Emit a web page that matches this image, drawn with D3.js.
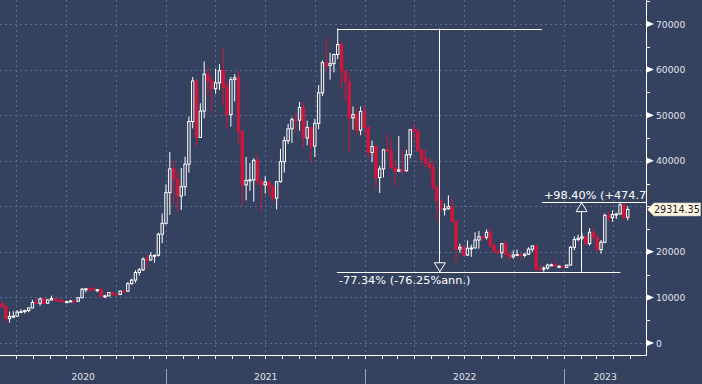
<!DOCTYPE html>
<html>
<head>
<meta charset="utf-8">
<script src="https://cdn.jsdelivr.net/npm/d3@7"></script>
<style>
  html, body { margin: 0; padding: 0; background: #34425f; }
  svg { display: block; }
  text { font-family: "DejaVu Sans", sans-serif; }
</style>
</head>
<body>
<div id="viz"></div>
<script>
/*##############################
#   Weekly OHLC, Mar 2020 on   #
###############################*/

var firstWeek = "2020-03-02";

var open = [
  8560, 8040, 5360, 5830, 5880, 6780, 6900, 7120, 7690, 8890, 8720, 9680, 8720, 9450, 9760, 9340, 9300, 9050, 9070, 9230,
  9160, 9930, 11800, 11900, 11850, 11680, 11700, 10280, 10330, 11080, 10770, 10660, 11380, 11370, 13030, 13800, 15480, 16060, 18400, 18190,
  19140, 19250, 23860, 26270, 33000, 38200, 36050, 32260, 34300, 39250, 48600, 57500, 45100, 50900, 59000, 57500, 55800, 57100, 59750, 56200,
  50100, 57800, 58200, 46400, 34700, 35700, 35800, 40100, 35500, 34700, 35300, 34240, 31800, 35400, 39800, 44400, 47000, 49000, 48900, 51700,
  45000, 47300, 43200, 48200, 54900, 61500, 60900, 61300, 63300, 65500, 59700, 57300, 49400, 50100, 46700, 50800, 47300, 41800, 43100, 36300,
  38200, 42400, 42200, 38400, 37700, 38000, 37800, 41300, 46800, 46400, 42200, 40400, 39500, 38500, 34300, 31300, 29400, 29450, 29900, 26700,
  20600, 21000, 19300, 20800, 20850, 22600, 23300, 23200, 24300, 21500, 20000, 19800, 21800, 19400, 18900, 19300, 19400, 19200, 19500, 20600,
  21300, 16300, 16250, 16450, 17100, 17150, 16800, 16850, 16600, 17100, 21000, 22700, 23000, 23300, 21800, 24300, 23200, 20500, 22100, 28000,
  27500, 28200, 28300, 30300, 27600
];
var high = [
  9180, 8180, 6900, 6950, 7200, 7460, 7290, 7770, 9460, 10000, 9940, 9900, 9600, 10400, 9990, 9600, 9760, 9300, 9470, 9340,
  10000, 12100, 12000, 12100, 12480, 11800, 12090, 10600, 11180, 11100, 10950, 11500, 11730, 13350, 14100, 15950, 16480, 18800, 19450, 19920,
  19400, 24200, 28400, 34800, 41950, 40100, 37850, 38400, 40900, 49700, 58350, 58000, 52600, 61800, 60600, 58400, 60200, 61200, 64900, 57200,
  58400, 59000, 59600, 46800, 40800, 39500, 40500, 41300, 35700, 36600, 35400, 34700, 35500, 42600, 45300, 48100, 49500, 50500, 52900, 52900,
  48800, 47400, 49200, 56600, 62000, 67000, 63700, 63500, 68990, 66300, 59800, 59100, 51900, 51500, 51900, 52100, 47600, 44400, 43500, 38900,
  42600, 45800, 44800, 39800, 45400, 42500, 42400, 46900, 48200, 47200, 42400, 42900, 40800, 40000, 34400, 31400, 30600, 32400, 31700, 26800,
  21800, 21500, 22500, 21600, 24300, 24600, 23600, 24900, 25200, 21800, 20600, 21900, 22800, 19900, 20300, 20500, 19700, 19700, 21000, 21400,
  21500, 17200, 16800, 17400, 17400, 18400, 17000, 16950, 17200, 21300, 23400, 23800, 24200, 23400, 25200, 25100, 23900, 22600, 28400, 28900,
  29100, 28600, 31016, 30500, 30000
];
var low = [
  7640, 4300, 4500, 5700, 5860, 6600, 6470, 6780, 7630, 8560, 8200, 8810, 8640, 9300, 9100, 9220, 8930, 8950, 9050, 9050,
  9130, 9900, 11100, 11200, 11500, 11150, 9900, 9880, 10250, 10140, 10400, 10530, 11200, 11300, 12800, 13200, 14800, 15800, 16200, 18100,
  17600, 19000, 21900, 26000, 28100, 30400, 28850, 29150, 32300, 37400, 47100, 43000, 45000, 49300, 54000, 50400, 54700, 55500, 52000, 47000,
  47500, 53000, 43800, 30000, 31300, 33400, 31000, 34800, 28800, 32800, 32200, 31050, 29300, 35200, 37400, 43700, 43900, 46300, 46600, 42800,
  43400, 39600, 40800, 46900, 54200, 59600, 57800, 59400, 62300, 55700, 53300, 42000, 46800, 45600, 45600, 45700, 40600, 39700, 34000, 32900,
  36300, 41700, 38300, 34300, 37500, 37200, 37600, 40500, 44300, 41900, 39200, 38600, 37700, 33700, 26700, 28700, 28000, 29300, 26500, 17600,
  19800, 18900, 19100, 18900, 20800, 20700, 22400, 22700, 20800, 19900, 19600, 18600, 19300, 18200, 18500, 19100, 18200, 18800, 19300, 20000,
  15700, 15900, 15633, 16100, 16900, 16600, 16400, 16400, 16500, 17000, 20400, 22300, 22600, 21500, 21400, 22800, 20000, 19600, 21900, 26600,
  26600, 27200, 28200, 27200, 26900
];
var close = [
  8040, 5360, 5830, 5880, 6780, 6900, 7120, 7690, 8890, 8720, 9680, 8720, 9450, 9760, 9340, 9300, 9050, 9070, 9230, 9160,
  9930, 11800, 11900, 11850, 11680, 11700, 10280, 10330, 11080, 10770, 10660, 11380, 11370, 13030, 13800, 15480, 16060, 18400, 18190, 19140,
  19250, 23860, 26270, 33000, 38200, 36050, 32260, 34300, 39250, 48600, 57500, 45100, 50900, 59000, 57500, 55800, 57100, 59750, 56200, 50100,
  57800, 58200, 46400, 34700, 35700, 35800, 40100, 35500, 34700, 35300, 34240, 31800, 35400, 39800, 44400, 47000, 49000, 48900, 51700, 45000,
  47300, 43200, 48200, 54900, 61500, 60900, 61300, 63300, 65500, 59700, 57300, 49400, 50100, 46700, 50800, 47300, 41800, 43100, 36300, 38200,
  42400, 42200, 38400, 37700, 38000, 37800, 41300, 46800, 46400, 42200, 40400, 39500, 38500, 34300, 31300, 29400, 29450, 29900, 26700, 20600,
  21000, 19300, 20800, 20850, 22600, 23300, 23200, 24300, 21500, 20000, 19800, 21800, 19400, 18900, 19300, 19400, 19200, 19500, 20600, 21300,
  16300, 16250, 16450, 17100, 17150, 16800, 16850, 16600, 17100, 21000, 22700, 23000, 23300, 21800, 24300, 23200, 20500, 22100, 28000, 27500,
  28200, 28300, 30300, 27600, 29314.35
];

var lastPrice = 29314.35;
var yTicks = [0, 10000, 20000, 30000, 40000, 50000, 60000, 70000];

// drawdown / rally annotations
var annDates = ["2021-11-10", "2022-11-21", "2023-04-14"];
var annPrices = [68990, 15633, 31016];
var annTexts = ["-77.34% (-76.25%ann.)", "+98.40% (+474.72%ann.)"];

/*##############################
#       Chart setup            #
###############################*/

var W = 702, H = 384;
var plotW = 646, plotH = 355;
var BG = "#34425f";
var RED = "#d0163c";

var parse = d3.utcParse("%Y-%m-%d");
var day = 864e5;
var start = parse(firstWeek);

var candles = close.map(function(c, i) {
  return { t: new Date(+start + (i * 7 + 3.5) * day), o: open[i], h: high[i], l: low[i], c: c };
});

var x = d3.scaleUtc()
  .domain([Date.UTC(2020, 2, 2), Date.UTC(2023, 4, 31)])
  .range([0, plotW]);
var y = d3.scaleLinear().domain([0, 70000]).range([343, 24]);

var svg = d3.select("#viz").append("svg")
  .attr("width", W).attr("height", H);

svg.append("rect").attr("width", W).attr("height", H).attr("fill", BG);

svg.append("clipPath").attr("id", "plotClip")
  .append("rect").attr("width", plotW).attr("height", plotH);

// grid
var grid = svg.append("g").attr("stroke", "#5a6d91").attr("stroke-dasharray", "2,3").attr("stroke-width", 1);
yTicks.forEach(function(v) {
  grid.append("line").attr("x1", 0).attr("x2", plotW)
    .attr("y1", Math.round(y(v)) + 0.5).attr("y2", Math.round(y(v)) + 0.5);
});
d3.utcMonth.every(3).range(x.domain()[0], x.domain()[1]).forEach(function(d) {
  var px = Math.round(x(d)) + 0.5;
  grid.append("line").attr("x1", px).attr("x2", px).attr("y1", 0).attr("y2", plotH);
});

// candles: hollow white when up, filled red when down
var plot = svg.append("g").attr("clip-path", "url(#plotClip)");
var bw = 2.4;

plot.selectAll(".wick").data(candles).enter().append("line")
  .attr("x1", function(d) { return x(d.t); })
  .attr("x2", function(d) { return x(d.t); })
  .attr("y1", function(d) { return y(d.h); })
  .attr("y2", function(d) { return y(d.l); })
  .attr("stroke", function(d) { return d.c >= d.o ? "#ffffff" : RED; })
  .attr("stroke-width", 1);

plot.selectAll(".body").data(candles).enter().append("rect")
  .attr("x", function(d) { return x(d.t) - bw / 2; })
  .attr("y", function(d) { return y(Math.max(d.o, d.c)); })
  .attr("width", bw)
  .attr("height", function(d) { return Math.max(1, Math.abs(y(d.o) - y(d.c))); })
  .attr("fill", function(d) { return d.c >= d.o ? BG : RED; })
  .attr("stroke", function(d) { return d.c >= d.o ? "#ffffff" : RED; })
  .attr("stroke-width", 1);

/*##############################
#       Annotations            #
###############################*/

var ann = plot.append("g").attr("stroke", "#ffffff").attr("stroke-width", 1).attr("fill", "none");
var xa = annDates.map(function(s) { return x(parse(s)); });
var yPeak = y(annPrices[0]), yLow = y(annPrices[1]), yTop = y(annPrices[2]);
var midDown = (xa[0] + xa[1]) / 2, midUp = (xa[1] + xa[2]) / 2;

function hl(x1, x2, yy) {
  ann.append("line").attr("x1", x1).attr("x2", x2)
    .attr("y1", Math.round(yy) + 0.5).attr("y2", Math.round(yy) + 0.5);
}
function vl(xx, y1, y2) {
  ann.append("line").attr("x1", Math.round(xx) + 0.5).attr("x2", Math.round(xx) + 0.5)
    .attr("y1", y1).attr("y2", y2);
}

hl(xa[0], xa[1], yPeak);
hl(xa[0], xa[2], yLow);
vl(midDown, yPeak, yLow);
ann.append("path")
  .attr("d", "M" + (midDown - 5) + "," + (yLow - 9) + "L" + (midDown + 6) + "," + (yLow - 9) + "L" + (midDown + 0.5) + "," + yLow + "Z")
  .attr("fill", BG);

var txtUp = plot.append("text")
  .attr("x", xa[1] + 2).attr("y", yTop - 3)
  .attr("fill", "#ffffff").attr("font-size", "11.3px")
  .text(annTexts[1]);
var upW = txtUp.node().getComputedTextLength();
hl(xa[1], Math.max(xa[2], xa[1] + upW + 4), yTop);
vl(midUp, yLow, yTop);
ann.append("path")
  .attr("d", "M" + (midUp - 5) + "," + (yTop + 10) + "L" + (midUp + 6) + "," + (yTop + 10) + "L" + (midUp + 0.5) + "," + (yTop + 1) + "Z")
  .attr("fill", BG);

plot.append("text")
  .attr("x", xa[0] + 2).attr("y", yLow + 12)
  .attr("fill", "#ffffff").attr("font-size", "11.3px")
  .text(annTexts[0]);

/*##############################
#       Axes                   #
###############################*/

var axes = svg.append("g").attr("stroke", "#ffffff").attr("stroke-width", 1);
axes.append("line").attr("x1", plotW + 0.5).attr("x2", plotW + 0.5).attr("y1", 0).attr("y2", plotH + 0.5);
axes.append("line").attr("x1", 0).attr("x2", plotW + 0.5).attr("y1", plotH + 0.5).attr("y2", plotH + 0.5);

// monthly ticks on the time axis
d3.utcMonth.range(x.domain()[0], x.domain()[1]).forEach(function(d) {
  var px = Math.round(x(d)) + 0.5;
  axes.append("line").attr("x1", px).attr("x2", px).attr("y1", plotH).attr("y2", plotH + 4);
});

// year separators + labels, centred on the visible part of each year
var years = [2020, 2021, 2022, 2023];
years.forEach(function(yr) {
  var a = Math.max(0, x(Date.UTC(yr, 0, 1))), b = Math.min(plotW, x(Date.UTC(yr + 1, 0, 1)));
  if (yr > 2020) {
    svg.append("line").attr("x1", Math.round(a) + 0.5).attr("x2", Math.round(a) + 0.5)
      .attr("y1", 369).attr("y2", H).attr("stroke", "#9aa3b5").attr("stroke-width", 1);
  }
  svg.append("text").attr("x", (a + b) / 2).attr("y", 380)
    .attr("text-anchor", "middle").attr("fill", "#e2e4ea").attr("font-size", "9.2px")
    .text(yr);
});

// right value axis
var tagY = y(lastPrice);
d3.range(0, 80000, 5000).forEach(function(v) {
  var py = Math.round(y(v)) + 0.5;
  axes.append("line").attr("x1", plotW).attr("x2", plotW + 4).attr("y1", py).attr("y2", py);
});
yTicks.forEach(function(v) {
  var py = y(v);
  // the last-price tag sits over this one
  if (Math.abs(py - tagY) < 10) return;
  svg.append("path")
    .attr("d", "M" + (plotW + 1) + "," + (py - 3) + "L" + (plotW + 8) + "," + py + "L" + (plotW + 1) + "," + (py + 3) + "Z")
    .attr("fill", "#ffffff");
  svg.append("text").attr("x", plotW + 10).attr("y", py + 3.5)
    .attr("fill", "#e2e4ea").attr("font-size", "9.2px")
    .text(v);
});

// last price tag
svg.append("path")
  .attr("d", "M" + (plotW + 1.5) + "," + tagY + "L" + (plotW + 8) + "," + (tagY - 6.5) + "L" + (W - 1.5) + "," + (tagY - 6.5) +
        "L" + (W - 1.5) + "," + (tagY + 6.5) + "L" + (plotW + 8) + "," + (tagY + 6.5) + "Z")
  .attr("fill", "#fdf6e2").attr("stroke", "#c9c2ae").attr("stroke-width", 0.6);
svg.append("text").attr("x", plotW + 8).attr("y", tagY + 3.6)
  .attr("fill", "#1c1c1c").attr("font-size", "9.6px")
  .text(d3.format(".2f")(lastPrice));
</script>
</body>
</html>
